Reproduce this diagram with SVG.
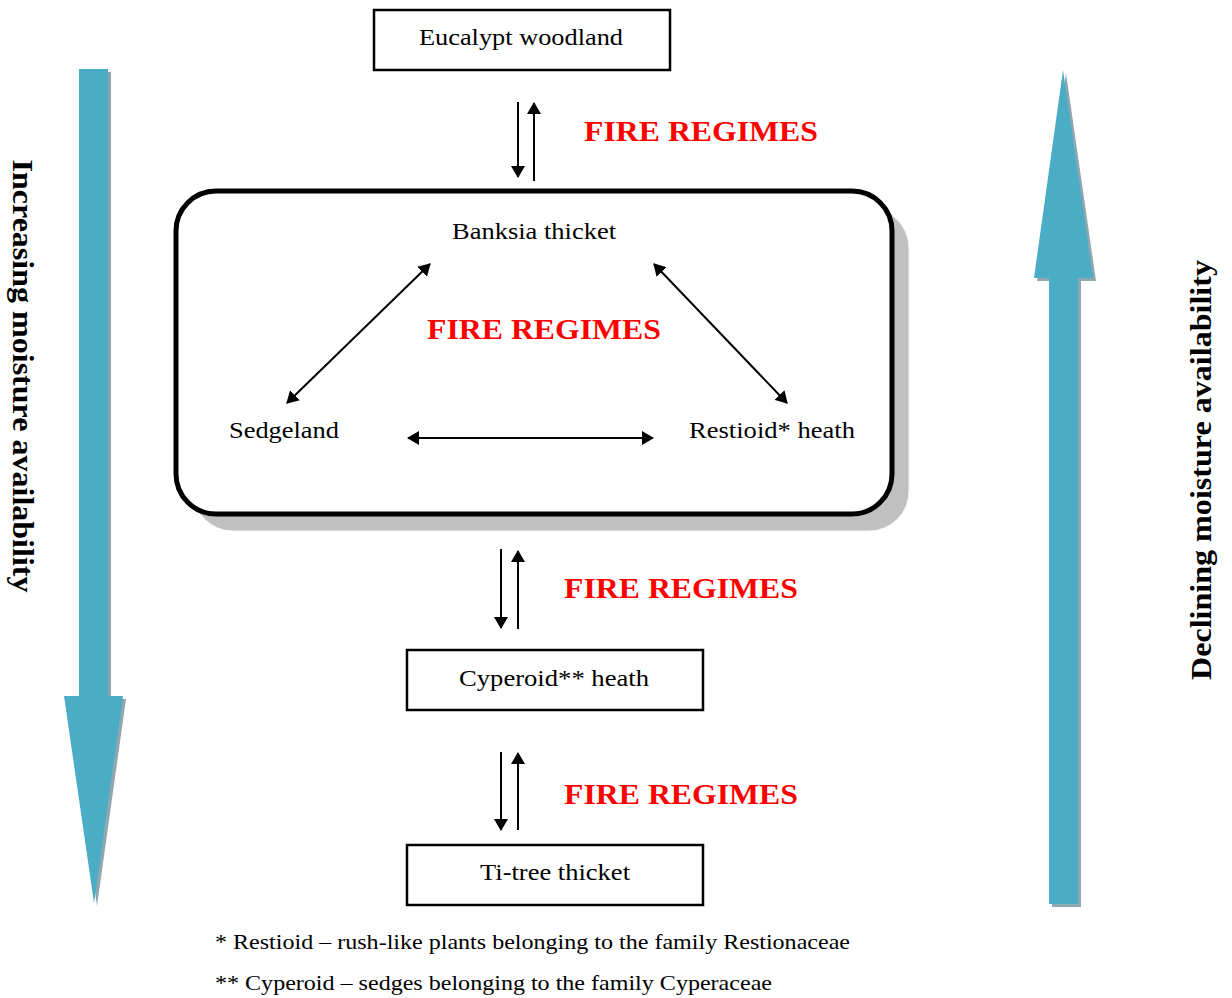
<svg xmlns="http://www.w3.org/2000/svg" width="1232" height="998" viewBox="0 0 1232 998">
<style>
.t{font-family:"Liberation Serif","Times New Roman",serif;font-size:24px;fill:#000}
.f{font-family:"Liberation Serif","Times New Roman",serif;font-size:29px;font-weight:bold;fill:#ff0000}
.v{font-family:"Liberation Serif","Times New Roman",serif;font-size:30px;font-weight:bold;fill:#000}
.n{font-family:"Liberation Serif","Times New Roman",serif;font-size:21px;fill:#000}
.box{fill:#fff;stroke:#000;stroke-width:2.5}
.c{stroke:#000;stroke-width:2;fill:none}
.big{fill:#4bacc6}
.sh{fill:#8fa8b0}
</style>
<defs>
<marker id="ah" viewBox="0 0 12 14" refX="11" refY="7" markerWidth="12" markerHeight="14" markerUnits="userSpaceOnUse" orient="auto-start-reverse">
<path d="M0,0 L12,7 L0,14 Z" fill="#000"/>
</marker>
</defs>
<rect width="1232" height="998" fill="#fff"/>

<g id="left-arrow">
<polygon class="sh" points="82,72 111,72 111,699 126,699 97,906 67,699 82,699"/>
<polygon class="big" points="79,69 108,69 108,696 123,696 94,903 64,696 79,696"/>
<text class="v" transform="translate(13,376) rotate(90)" text-anchor="middle" textLength="433" lengthAdjust="spacingAndGlyphs">Increasing moisture availability</text>
</g>

<g id="right-arrow">
<polygon class="sh" points="1066,73 1096,281 1081,281 1081,907 1052,907 1052,281 1037,281"/>
<polygon class="big" points="1063,70 1093,278 1078,278 1078,904 1049,904 1049,278 1034,278"/>
<text class="v" transform="translate(1211,470) rotate(-90)" text-anchor="middle" textLength="420" lengthAdjust="spacingAndGlyphs">Declining moisture availability</text>
</g>

<g id="eucalypt">
<rect class="box" x="374" y="10" width="296" height="60"/>
<text class="t" x="521" y="45" text-anchor="middle" textLength="204" lengthAdjust="spacingAndGlyphs">Eucalypt woodland</text>
</g>

<g id="banksia-group">
<rect x="193" y="208" width="716" height="323" rx="40" fill="#c0c0c0" stroke="#f4f4f4" stroke-width="1"/>
<rect x="176" y="191" width="716" height="323" rx="40" fill="#fff" stroke="#000" stroke-width="5"/>
</g>

<g id="banksia">
<text class="t" x="534" y="239" text-anchor="middle" textLength="164" lengthAdjust="spacingAndGlyphs">Banksia thicket</text>
</g>
<g id="sedgeland">
<text class="t" x="229" y="438" textLength="110" lengthAdjust="spacingAndGlyphs">Sedgeland</text>
</g>
<g id="restioid">
<text class="t" x="689" y="438" textLength="166" lengthAdjust="spacingAndGlyphs">Restioid* heath</text>
</g>

<g id="cyperoid">
<rect class="box" x="407" y="650" width="296" height="60"/>
<text class="t" x="554" y="686" text-anchor="middle" textLength="190" lengthAdjust="spacingAndGlyphs">Cyperoid** heath</text>
</g>

<g id="titree">
<rect class="box" x="407" y="845" width="296" height="60"/>
<text class="t" x="555" y="880" text-anchor="middle" textLength="150" lengthAdjust="spacingAndGlyphs">Ti-tree thicket</text>
</g>

<g id="labels">
<text class="f" x="584" y="141" textLength="234" lengthAdjust="spacingAndGlyphs">FIRE REGIMES</text>
<text class="f" x="427" y="339" textLength="234" lengthAdjust="spacingAndGlyphs">FIRE REGIMES</text>
<text class="f" x="564" y="598" textLength="234" lengthAdjust="spacingAndGlyphs">FIRE REGIMES</text>
<text class="f" x="564" y="804" textLength="234" lengthAdjust="spacingAndGlyphs">FIRE REGIMES</text>
</g>

<g id="connectors">
<line class="c" x1="518" y1="102" x2="518" y2="177" marker-end="url(#ah)"/>
<line class="c" x1="534" y1="181" x2="534" y2="103" marker-end="url(#ah)"/>
<line class="c" x1="501" y1="549" x2="501" y2="628" marker-end="url(#ah)"/>
<line class="c" x1="518" y1="629" x2="518" y2="551" marker-end="url(#ah)"/>
<line class="c" x1="501" y1="752" x2="501" y2="830" marker-end="url(#ah)"/>
<line class="c" x1="518" y1="830" x2="518" y2="753" marker-end="url(#ah)"/>
<line class="c" x1="408" y1="438" x2="653" y2="438" marker-start="url(#ah)" marker-end="url(#ah)"/>
<line class="c" x1="287" y1="403" x2="430" y2="264" marker-start="url(#ah)" marker-end="url(#ah)"/>
<line class="c" x1="654" y1="264" x2="787" y2="403" marker-start="url(#ah)" marker-end="url(#ah)"/>
</g>

<g id="footnotes">
<text class="n" x="215" y="949" textLength="635" lengthAdjust="spacingAndGlyphs">* Restioid – rush-like plants belonging to the family Restionaceae</text>
<text class="n" x="215" y="990" textLength="557" lengthAdjust="spacingAndGlyphs">** Cyperoid – sedges belonging to the family Cyperaceae</text>
</g>
</svg>
